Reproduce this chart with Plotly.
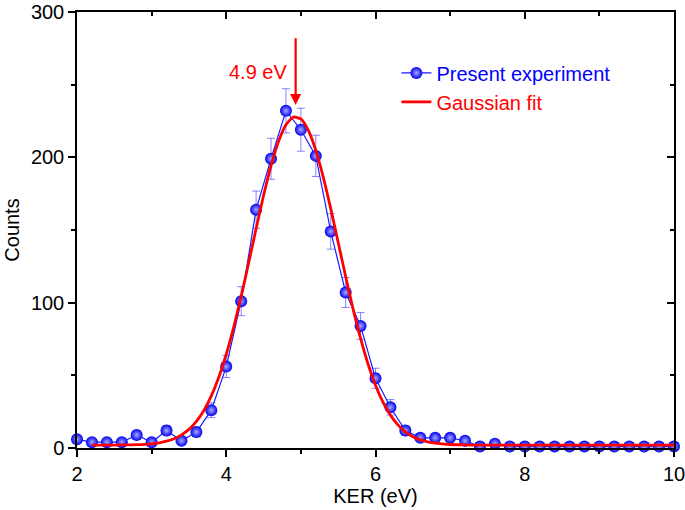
import plotly.graph_objects as go

# Experimental data
ker = [2.0, 2.2, 2.4, 2.6, 2.8, 3.0, 3.2, 3.4, 3.6, 3.8,
       4.0, 4.2, 4.4, 4.6, 4.8, 5.0, 5.2, 5.4, 5.6, 5.8,
       6.0, 6.2, 6.4, 6.6, 6.8, 7.0, 7.2, 7.4, 7.6, 7.8,
       8.0, 8.2, 8.4, 8.6, 8.8, 9.0, 9.2, 9.4, 9.6, 9.8, 10.0]
counts = [6, 4, 4, 4, 9, 4, 12, 5, 11, 26,
          56, 101, 164, 199, 232, 219, 201, 149, 107, 84,
          48, 28, 12, 7, 7, 7, 5, 1, 3, 1,
          1, 1, 1, 1, 1, 1, 1, 1, 1, 1, 1]
errors = [2.4, 2.0, 2.0, 2.0, 3.0, 2.0, 3.5, 2.2, 3.3, 5.1,
          7.5, 10.0, 12.8, 14.1, 15.2, 14.8, 14.2, 12.2, 10.3, 9.2,
          6.9, 5.3, 3.5, 2.6, 2.6, 2.6, 2.2, 1.0, 1.7, 1.0,
          1.0, 1.0, 1.0, 1.0, 1.0, 1.0, 1.0, 1.0, 1.0, 1.0, 1.0]

# Gaussian fit curve
fit_x = [2.2, 2.4, 2.6, 2.8, 3.0, 3.1, 3.2, 3.3, 3.4, 3.5, 3.6, 3.7, 3.8, 3.9,
         4.0, 4.1, 4.2, 4.3, 4.4, 4.5, 4.6, 4.7, 4.8, 4.9, 5.0, 5.1, 5.2, 5.3,
         5.4, 5.5, 5.6, 5.7, 5.8, 5.9, 6.0, 6.1, 6.2, 6.3, 6.4, 6.5, 6.6, 6.7,
         6.8, 7.0, 7.2, 7.4, 7.6, 8.0, 9.0, 10.0]
fit_y = [2.0, 2.0, 2.1, 2.3, 2.9, 3.6, 4.7, 6.4, 9.0, 12.8, 18.3, 25.8, 35.9, 48.7,
         64.5, 83.2, 104.4, 127.3, 150.9, 173.7, 194.2, 210.9, 222.4, 227.7, 226.4, 218.5, 204.8, 186.4,
         164.7, 141.4, 118.0, 95.6, 75.4, 57.8, 43.2, 31.5, 22.6, 15.9, 11.1, 7.8, 5.6, 4.2,
         3.3, 2.4, 2.1, 2.0, 2.0, 2.0, 2.0, 2.0]

x_ticks = [2, 4, 6, 8, 10]
y_ticks = [0, 100, 200, 300]

peak_label = "4.9 eV"
peak_x = 4.93

FONT = "Arial, Liberation Sans, Helvetica, sans-serif"
FS = 20

fig = go.Figure()

fig.add_trace(go.Scatter(
    x=ker, y=counts, mode="lines+markers",
    name='<span style="color:#0000ff">Present experiment</span>',
    line=dict(color="#1a1aff", width=1.2),
    marker=dict(size=12, color="#0000f0",
                gradient=dict(type="radial", color="#a8a8ff"),
                line=dict(width=0)),
    error_y=dict(type="data", array=errors, visible=True,
                 color="rgba(80,80,255,0.7)", thickness=1, width=4),
    cliponaxis=False,
))

fig.add_trace(go.Scatter(
    x=fit_x, y=fit_y, mode="lines",
    name='<span style="color:#ff0000">Gaussian fit</span>',
    line=dict(color="#ff0000", width=2.8, shape="spline", smoothing=0.6),
    cliponaxis=False,
))

# arrow and label
fig.add_annotation(x=peak_x, y=236, ax=peak_x, ay=283, xref="x", yref="y",
                   axref="x", ayref="y", text="", showarrow=True,
                   arrowhead=2, arrowsize=1.0, arrowwidth=2.2, arrowcolor="#ff0000")
fig.add_annotation(x=4.84, y=259, xref="x", yref="y", text=peak_label,
                   showarrow=False, xanchor="right", yanchor="middle",
                   font=dict(family=FONT, size=FS, color="#ff0000"))

axis_common = dict(showline=True, linecolor="black", linewidth=1.5,
                   showgrid=False, zeroline=False, automargin=False,
                   ticklabeloverflow="allow",
                   tickfont=dict(family=FONT, size=FS, color="black"),
                   ticklen=7, tickwidth=1.5, tickcolor="black")

fig.update_layout(
    width=685, height=510,
    margin=dict(l=77, r=11, t=12, b=62),
    plot_bgcolor="white", paper_bgcolor="white",
    font=dict(family=FONT, size=FS, color="black"),
    showlegend=True,
    legend=dict(x=0.535, y=0.905, xanchor="left", yanchor="top",
                bgcolor="rgba(0,0,0,0)", font=dict(family=FONT, size=FS),
                tracegroupgap=0),
    xaxis=dict(range=[2, 10], tickvals=x_ticks, ticks="outside",
               minor=dict(dtick=1, ticks="outside", ticklen=4, tickwidth=1.5, tickcolor="black"),
               title=dict(text="KER (eV)", font=dict(family=FONT, size=FS), standoff=4),
               **axis_common),
    yaxis=dict(range=[0, 300], tickvals=y_ticks, ticks="outside",
               minor=dict(dtick=50, ticks="outside", ticklen=4, tickwidth=1.5, tickcolor="black"),
               title=dict(text="Counts", font=dict(family=FONT, size=FS), standoff=6),
               **axis_common),
    xaxis2=dict(range=[2, 10], overlaying="x", side="top", tickvals=x_ticks,
                ticks="inside", showticklabels=False,
                minor=dict(dtick=1, ticks="inside", ticklen=4, tickwidth=1.5, tickcolor="black"),
                anchor="y", **axis_common),
    yaxis2=dict(range=[0, 300], overlaying="y", side="right", tickvals=y_ticks,
                ticks="inside", showticklabels=False,
                minor=dict(dtick=50, ticks="inside", ticklen=4, tickwidth=1.5, tickcolor="black"),
                anchor="x", **axis_common),
)

# invisible trace to make the mirrored axes render
fig.add_trace(go.Scatter(x=[2, 10], y=[0, 300], xaxis="x2", yaxis="y2",
                         mode="markers", marker=dict(opacity=0), showlegend=False,
                         hoverinfo="skip"))

fig.write_html("out.html", config={"displayModeBar": False},
               post_script="document.body.style.margin='0';document.body.style.overflow='hidden';")
